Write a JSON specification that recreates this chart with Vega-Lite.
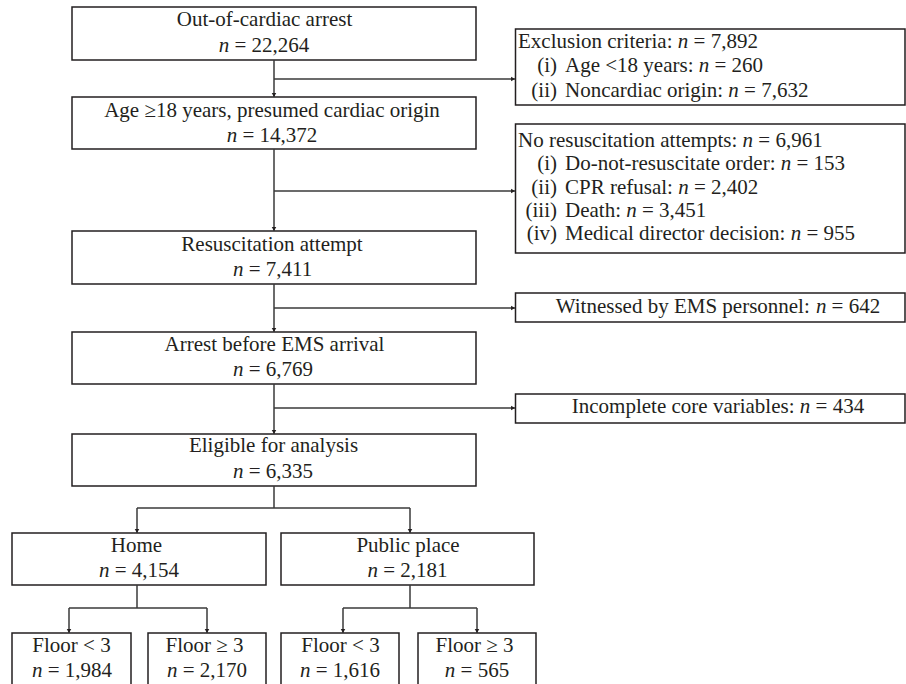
{
  "$schema": "https://vega.github.io/schema/vega-lite/v6.json",
  "width": 906,
  "height": 684,
  "padding": 0,
  "autosize": {"type": "none"},
  "background": "white",
  "config": {"view": {"stroke": null}},
  "datasets": {
    "boxes": [
      {"id": "b1", "x": 72, "x2": 476, "y": 7, "y2": 60},
      {"id": "b2", "x": 72, "x2": 476, "y": 97, "y2": 149},
      {"id": "b3", "x": 72, "x2": 476, "y": 231, "y2": 284},
      {"id": "b4", "x": 72, "x2": 476, "y": 332, "y2": 384},
      {"id": "b5", "x": 72, "x2": 476, "y": 434, "y2": 486},
      {"id": "excl", "x": 515.5, "x2": 905, "y": 29, "y2": 105},
      {"id": "nores", "x": 515.5, "x2": 905, "y": 124, "y2": 253},
      {"id": "wit", "x": 515.5, "x2": 905, "y": 293, "y2": 322},
      {"id": "inc", "x": 515.5, "x2": 905, "y": 394, "y2": 423},
      {"id": "home", "x": 12, "x2": 266, "y": 533, "y2": 585},
      {"id": "public", "x": 281, "x2": 534, "y": 533, "y2": 585},
      {"id": "h1", "x": 12, "x2": 131, "y": 633, "y2": 687},
      {"id": "h2", "x": 148, "x2": 266, "y": 633, "y2": 687},
      {"id": "p1", "x": 281, "x2": 399, "y": 633, "y2": 687},
      {"id": "p2", "x": 418, "x2": 536, "y": 633, "y2": 687}
    ],
    "lines": [
      {"x": 274, "x2": 274, "y": 60, "y2": 97},
      {"x": 274, "x2": 274, "y": 149, "y2": 231},
      {"x": 274, "x2": 274, "y": 284, "y2": 332},
      {"x": 274, "x2": 274, "y": 384, "y2": 434},
      {"x": 274, "x2": 274, "y": 486, "y2": 508},
      {"x": 274, "x2": 515, "y": 79, "y2": 79},
      {"x": 274, "x2": 515, "y": 191, "y2": 191},
      {"x": 274, "x2": 515, "y": 308, "y2": 308},
      {"x": 274, "x2": 515, "y": 408, "y2": 408},
      {"x": 137, "x2": 410, "y": 508, "y2": 508},
      {"x": 137, "x2": 137, "y": 508, "y2": 533},
      {"x": 410, "x2": 410, "y": 508, "y2": 533},
      {"x": 137, "x2": 137, "y": 585, "y2": 608},
      {"x": 69, "x2": 207, "y": 608, "y2": 608},
      {"x": 69, "x2": 69, "y": 608, "y2": 633},
      {"x": 207, "x2": 207, "y": 608, "y2": 633},
      {"x": 410, "x2": 410, "y": 585, "y2": 608},
      {"x": 343, "x2": 477, "y": 608, "y2": 608},
      {"x": 343, "x2": 343, "y": 608, "y2": 633},
      {"x": 477, "x2": 477, "y": 608, "y2": 633}
    ],
    "arrows": [
      {"dir": "down", "x": 274, "y": 95},
      {"dir": "down", "x": 274, "y": 229},
      {"dir": "down", "x": 274, "y": 330},
      {"dir": "down", "x": 274, "y": 432},
      {"dir": "down", "x": 137, "y": 531},
      {"dir": "down", "x": 410, "y": 531},
      {"dir": "down", "x": 69, "y": 631},
      {"dir": "down", "x": 207, "y": 631},
      {"dir": "down", "x": 343, "y": 631},
      {"dir": "down", "x": 477, "y": 631},
      {"dir": "right", "x": 513, "y": 79},
      {"dir": "right", "x": 513, "y": 191},
      {"dir": "right", "x": 513, "y": 308},
      {"dir": "right", "x": 513, "y": 408}
    ],
    "texts": [
      {"k": "c", "x": 264.5, "y": 26, "t": "Out-of-cardiac arrest"},
      {"k": "c", "x": 272, "y": 116.7, "t": "Age ≥18 years, presumed cardiac origin"},
      {"k": "c", "x": 272, "y": 251, "t": "Resuscitation attempt"},
      {"k": "c", "x": 274.5, "y": 350.5, "t": "Arrest before EMS arrival"},
      {"k": "c", "x": 273.5, "y": 452, "t": "Eligible for analysis"},
      {"k": "c", "x": 136.5, "y": 551.7, "t": "Home"},
      {"k": "c", "x": 408, "y": 551.7, "t": "Public place"},
      {"k": "c", "x": 71.5, "y": 651.7, "t": "Floor < 3"},
      {"k": "c", "x": 204.5, "y": 651.7, "t": "Floor ≥ 3"},
      {"k": "c", "x": 340.5, "y": 651.7, "t": "Floor < 3"},
      {"k": "c", "x": 474.5, "y": 651.7, "t": "Floor ≥ 3"},

      {"k": "n", "x": 218.7, "y": 51.7, "t": "n"},
      {"k": "l", "x": 234.45, "y": 51.7, "t": "= 22,264"},
      {"k": "n", "x": 226.7, "y": 141.7, "t": "n"},
      {"k": "l", "x": 242.45, "y": 141.7, "t": "= 14,372"},
      {"k": "n", "x": 232.95, "y": 276, "t": "n"},
      {"k": "l", "x": 248.7, "y": 276, "t": "= 7,411"},
      {"k": "n", "x": 232.95, "y": 376, "t": "n"},
      {"k": "l", "x": 248.7, "y": 376, "t": "= 6,769"},
      {"k": "n", "x": 232.95, "y": 478, "t": "n"},
      {"k": "l", "x": 248.7, "y": 478, "t": "= 6,335"},
      {"k": "n", "x": 98.95, "y": 576.7, "t": "n"},
      {"k": "l", "x": 114.7, "y": 576.7, "t": "= 4,154"},
      {"k": "n", "x": 367.45, "y": 576.7, "t": "n"},
      {"k": "l", "x": 383.2, "y": 576.7, "t": "= 2,181"},
      {"k": "n", "x": 31.95, "y": 676.7, "t": "n"},
      {"k": "l", "x": 47.7, "y": 676.7, "t": "= 1,984"},
      {"k": "n", "x": 166.95, "y": 676.7, "t": "n"},
      {"k": "l", "x": 182.7, "y": 676.7, "t": "= 2,170"},
      {"k": "n", "x": 299.95, "y": 676.7, "t": "n"},
      {"k": "l", "x": 315.7, "y": 676.7, "t": "= 1,616"},
      {"k": "n", "x": 444.85, "y": 676.7, "t": "n"},
      {"k": "l", "x": 460.6, "y": 676.7, "t": "= 565"},

      {"k": "l", "x": 518, "y": 47.5, "t": "Exclusion criteria:"},
      {"k": "n", "x": 677.8, "y": 47.5, "t": "n"},
      {"k": "l", "x": 693.6, "y": 47.5, "t": "= 7,892"},
      {"k": "r", "x": 557, "y": 72, "t": "(i)"},
      {"k": "l", "x": 565, "y": 72, "t": "Age <18 years:"},
      {"k": "n", "x": 698.7, "y": 72, "t": "n"},
      {"k": "l", "x": 714.5, "y": 72, "t": "= 260"},
      {"k": "r", "x": 557, "y": 96.5, "t": "(ii)"},
      {"k": "l", "x": 565, "y": 96.5, "t": "Noncardiac origin:"},
      {"k": "n", "x": 728.3, "y": 96.5, "t": "n"},
      {"k": "l", "x": 744.05, "y": 96.5, "t": "= 7,632"},

      {"k": "l", "x": 518, "y": 146.7, "t": "No resuscitation attempts:"},
      {"k": "n", "x": 742.6, "y": 146.7, "t": "n"},
      {"k": "l", "x": 758.3, "y": 146.7, "t": "= 6,961"},
      {"k": "r", "x": 557, "y": 170, "t": "(i)"},
      {"k": "l", "x": 565, "y": 170, "t": "Do-not-resuscitate order:"},
      {"k": "n", "x": 780.8, "y": 170, "t": "n"},
      {"k": "l", "x": 796.5, "y": 170, "t": "= 153"},
      {"k": "r", "x": 557, "y": 193.5, "t": "(ii)"},
      {"k": "l", "x": 565, "y": 193.5, "t": "CPR refusal:"},
      {"k": "n", "x": 678.2, "y": 193.5, "t": "n"},
      {"k": "l", "x": 693.9, "y": 193.5, "t": "= 2,402"},
      {"k": "r", "x": 557, "y": 216.7, "t": "(iii)"},
      {"k": "l", "x": 565, "y": 216.7, "t": "Death:"},
      {"k": "n", "x": 626.2, "y": 216.7, "t": "n"},
      {"k": "l", "x": 642, "y": 216.7, "t": "= 3,451"},
      {"k": "r", "x": 557, "y": 240, "t": "(iv)"},
      {"k": "l", "x": 565, "y": 240, "t": "Medical director decision:"},
      {"k": "n", "x": 790.7, "y": 240, "t": "n"},
      {"k": "l", "x": 806.5, "y": 240, "t": "= 955"},

      {"k": "l", "x": 555.75, "y": 313, "t": "Witnessed by EMS personnel:"},
      {"k": "n", "x": 815.9, "y": 313, "t": "n"},
      {"k": "l", "x": 831.6, "y": 313, "t": "= 642"},
      {"k": "l", "x": 571.8, "y": 413, "t": "Incomplete core variables:"},
      {"k": "n", "x": 799.8, "y": 413, "t": "n"},
      {"k": "l", "x": 815.6, "y": 413, "t": "= 434"}
    ]
  },
  "encoding": {
    "x": {"field": "x", "type": "quantitative", "axis": null, "scale": {"domain": [0, 906], "range": [0, 906], "nice": false, "zero": false}},
    "y": {"field": "y", "type": "quantitative", "axis": null, "scale": {"domain": [0, 684], "range": [0, 684], "nice": false, "zero": false}}
  },
  "layer": [
    {
      "data": {"name": "boxes"},
      "mark": {"type": "rect", "fill": "white", "stroke": "#231f20", "strokeWidth": 1.5},
      "encoding": {"x2": {"field": "x2"}, "y2": {"field": "y2"}}
    },
    {
      "data": {"name": "lines"},
      "mark": {"type": "rule", "stroke": "#3a3a3a", "strokeWidth": 1.5},
      "encoding": {"x2": {"field": "x2"}, "y2": {"field": "y2"}}
    },
    {
      "data": {"name": "arrows"},
      "transform": [{"filter": "datum.dir == 'down'"}],
      "mark": {"type": "point", "shape": "triangle-down", "filled": true, "color": "#231f20", "size": 20, "opacity": 1}
    },
    {
      "data": {"name": "arrows"},
      "transform": [{"filter": "datum.dir == 'right'"}],
      "mark": {"type": "point", "shape": "triangle-right", "filled": true, "color": "#231f20", "size": 20, "opacity": 1}
    },
    {
      "data": {"name": "texts"},
      "transform": [{"filter": "datum.k == 'c'"}],
      "mark": {"type": "text", "align": "center", "baseline": "alphabetic", "font": "Liberation Serif", "fontSize": 21, "color": "#231f20"},
      "encoding": {"text": {"field": "t"}}
    },
    {
      "data": {"name": "texts"},
      "transform": [{"filter": "datum.k == 'l'"}],
      "mark": {"type": "text", "align": "left", "baseline": "alphabetic", "font": "Liberation Serif", "fontSize": 21, "color": "#231f20"},
      "encoding": {"text": {"field": "t"}}
    },
    {
      "data": {"name": "texts"},
      "transform": [{"filter": "datum.k == 'r'"}],
      "mark": {"type": "text", "align": "right", "baseline": "alphabetic", "font": "Liberation Serif", "fontSize": 21, "color": "#231f20"},
      "encoding": {"text": {"field": "t"}}
    },
    {
      "data": {"name": "texts"},
      "transform": [{"filter": "datum.k == 'n'"}],
      "mark": {"type": "text", "align": "left", "baseline": "alphabetic", "font": "Liberation Serif", "fontStyle": "italic", "fontSize": 21, "color": "#231f20"},
      "encoding": {"text": {"field": "t"}}
    }
  ]
}
